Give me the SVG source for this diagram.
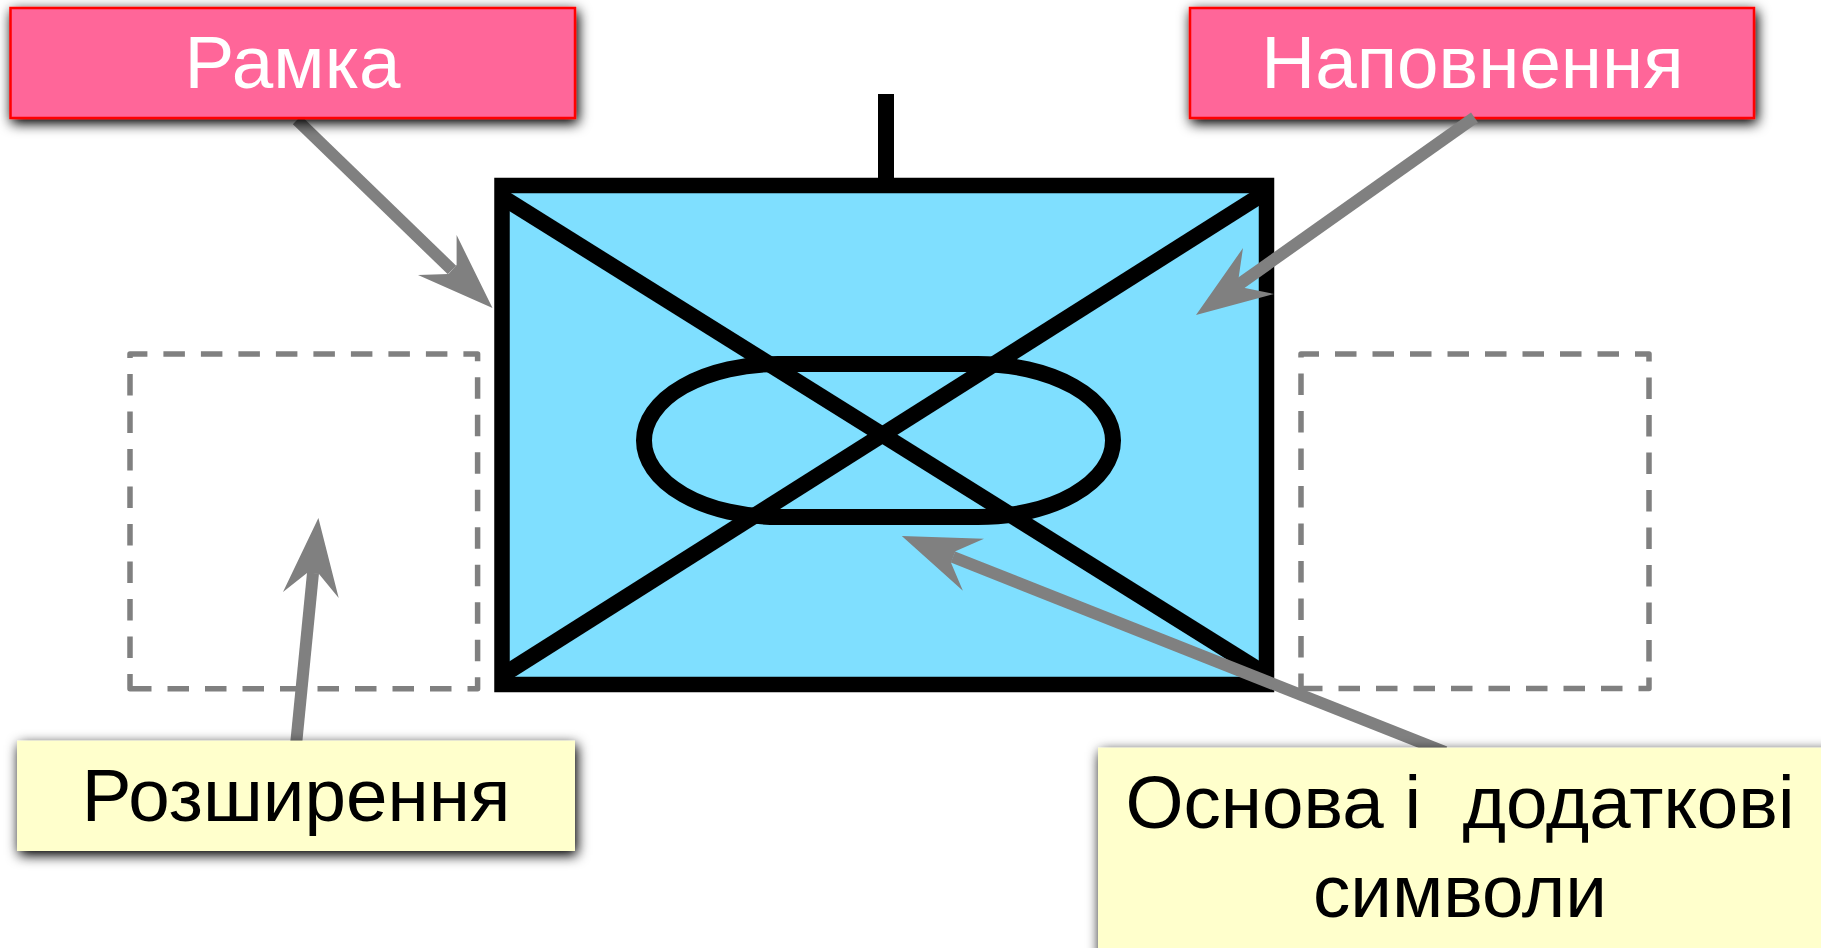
<svg xmlns="http://www.w3.org/2000/svg" width="1821" height="948" viewBox="0 0 1821 948">
<style>
.lbl{font-family:"Liberation Sans",Arial,sans-serif;font-size:74.6px;text-anchor:middle;white-space:pre}
.w{fill:#fff}.k{fill:#000}
.pink{fill:#ff6699;stroke:#ff0000;stroke-width:2.5;filter:url(#sh)}
.yel{fill:#ffffcc;filter:url(#sh)}
.blk{fill:none;stroke:#000;stroke-width:16}
.dash{fill:none;stroke:#808080;stroke-width:5.5;stroke-dasharray:21.5 16;stroke-linejoin:round}
.sh{fill:none;stroke:#808080;stroke-width:12}
.hd{fill:#808080;stroke:none}
</style>
<defs>
<filter id="sh" x="-10%" y="-30%" width="120%" height="170%">
<feGaussianBlur in="SourceAlpha" stdDeviation="6.5"/>
<feOffset dx="2" dy="4" result="b"/>
<feComponentTransfer in="b" result="d"><feFuncA type="linear" slope="1.1"/></feComponentTransfer>
<feMerge><feMergeNode in="d"/><feMergeNode in="SourceGraphic"/></feMerge>
</filter>
</defs>
<rect width="1821" height="948" fill="#fff"/>
<g id="dashed-left"><path class="dash" d="M130 688.7H477.6V354H130Z"/></g>
<g id="dashed-right"><path class="dash" d="M1301 688.5H1649V354H1301Z"/></g>
<g id="node-napovnennia">
<rect class="pink" x="1190" y="8" width="564" height="110"/>
<text class="lbl w" x="1472.5" y="88">Наповнення</text>
</g>
<g id="symbol">
<rect x="502" y="185.5" width="764.5" height="499" fill="#7fdfff" stroke="#000" stroke-width="15.5"/>
<line class="blk" x1="886" y1="94" x2="886" y2="180"/>
<line class="blk" x1="502" y1="197" x2="1270" y2="677"/>
<line class="blk" x1="1266" y1="192" x2="502" y2="675.5"/>
<path class="blk" d="M778 364H978A135 76.5 0 0 1 978 517H778A134 76.5 0 0 1 778 364Z"/>
</g>
<g id="connectors">
<g id="arrow-ramka"><line class="sh" x1="297" y1="120" x2="452" y2="270"/><polygon class="hd" points="492.5,308 418,275 448.5,274 456.6,265 456.6,235"/></g>
<g id="arrow-napovnennia"><line class="sh" x1="1474.5" y1="117.5" x2="1241" y2="283"/><polygon class="hd" points="1196,315 1243,248 1238.6,278 1245,288 1274,294"/></g>
<g id="arrow-rozshyrennia"><line class="sh" x1="296" y1="745" x2="313" y2="573"/><polygon class="hd" points="318.4,518 338.7,598 319,574 307,573 283,592"/></g>
<g id="arrow-osnova"><line class="sh" x1="1445" y1="752" x2="953" y2="557"/><polygon class="hd" points="901.8,536 984,538.7 955.4,551.3 951,562.7 962.9,590.7"/></g>
</g>
<g id="node-ramka">
<rect class="pink" x="10.5" y="8" width="564.5" height="110"/>
<text class="lbl w" x="292.5" y="88">Рамка</text>
</g>
<g id="node-rozshyrennia">
<rect class="yel" x="17" y="740.7" width="558" height="110.3"/>
<text class="lbl k" x="296" y="820.7">Розширення</text>
</g>
<g id="node-osnova">
<rect class="yel" x="1098" y="747.7" width="740" height="230"/>
<text class="lbl k" x="1460" y="827.7">Основа і  додаткові</text>
<text class="lbl k" x="1460" y="916.7">символи</text>
</g>
</svg>
